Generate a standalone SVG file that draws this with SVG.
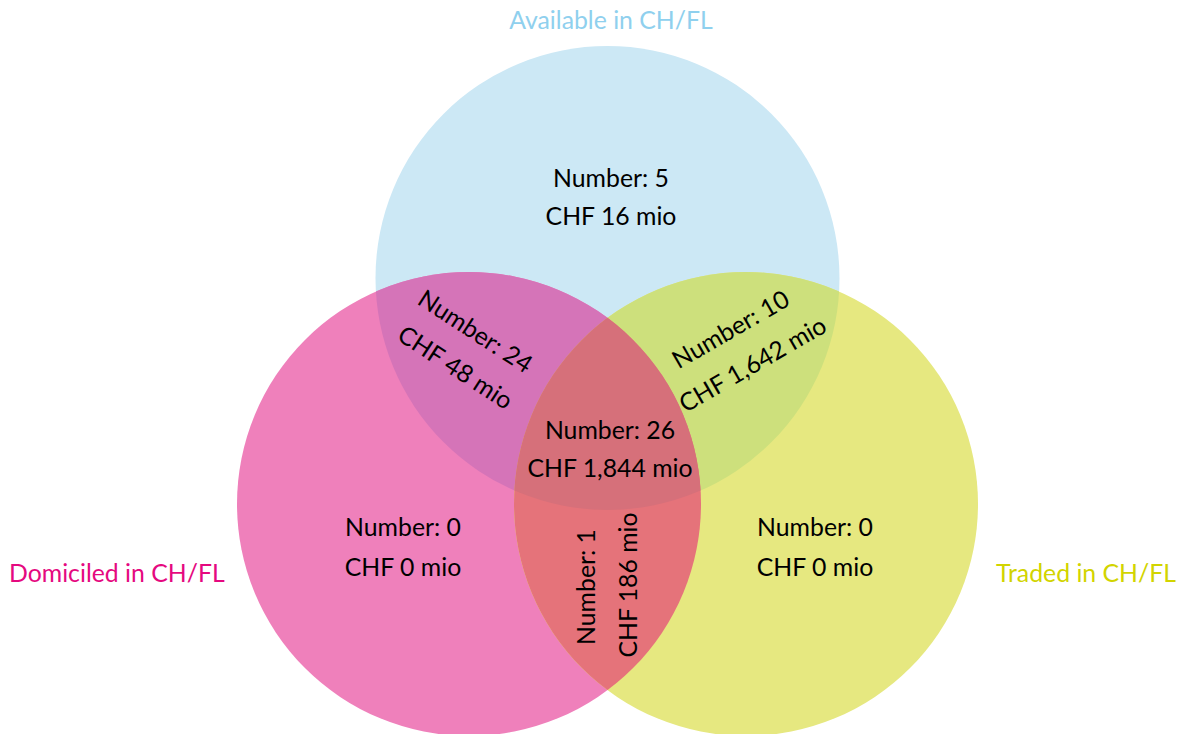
<svg xmlns="http://www.w3.org/2000/svg" width="1180" height="734" viewBox="0 0 1180 734">
  <style>
    .lbl { font-family: Lato, "Open Sans", "Liberation Sans", sans-serif; font-size: 24.8px; fill: #000; text-anchor: middle; }
    .set { font-family: Lato, "Open Sans", "Liberation Sans", sans-serif; font-size: 24.8px; }
  </style>
  <defs>
    <circle id="cAvail" cx="607.5" cy="278" r="232"/>
    <circle id="cDom" cx="469" cy="504" r="232"/>
    <circle id="cTrad" cx="746" cy="504" r="232"/>
    <clipPath id="clipAvail"><use href="#cAvail"/></clipPath>
    <clipPath id="clipDom"><use href="#cDom"/></clipPath>
  </defs>
  <rect width="1180" height="734" fill="#ffffff"/>

  <!-- set circles -->
  <g id="available">
    <use href="#cAvail" fill="#cce8f5"/>
  </g>
  <g id="domiciled">
    <use href="#cDom" fill="#ef80bb"/>
  </g>
  <g id="traded">
    <use href="#cTrad" fill="#e6e880"/>
  </g>

  <!-- pairwise and triple overlaps -->
  <g id="overlaps">
    <g clip-path="url(#clipAvail)"><use href="#cDom" fill="#d574b8"/></g>
    <g clip-path="url(#clipAvail)"><use href="#cTrad" fill="#cde07c"/></g>
    <g clip-path="url(#clipDom)"><use href="#cTrad" fill="#e5737a"/></g>
    <g clip-path="url(#clipAvail)"><g clip-path="url(#clipDom)"><use href="#cTrad" fill="#d6707a"/></g></g>
  </g>

  <!-- set titles -->
  <text class="set" x="611" y="29" text-anchor="middle" fill="#8fd0ee">Available in CH/FL</text>
  <text class="set" x="9" y="582" fill="#e5097f">Domiciled in CH/FL</text>
  <text class="set" x="1176" y="582" text-anchor="end" fill="#d2d400">Traded in CH/FL</text>

  <!-- region values -->
  <g id="only-available">
    <text class="lbl" x="611" y="187">Number: 5</text>
    <text class="lbl" x="611" y="225">CHF 16 mio</text>
  </g>
  <g id="available-domiciled">
    <text class="lbl" transform="translate(475,332) rotate(33)" y="8">Number: 24</text>
    <text class="lbl" transform="translate(455,368) rotate(33)" y="8">CHF 48 mio</text>
  </g>
  <g id="available-traded">
    <text class="lbl" transform="translate(731,330) rotate(-30)" y="8">Number: 10</text>
    <text class="lbl" transform="translate(753,365) rotate(-30)" y="8">CHF 1,642 mio</text>
  </g>
  <g id="all-three">
    <text class="lbl" x="610" y="439">Number: 26</text>
    <text class="lbl" x="610" y="477">CHF 1,844 mio</text>
  </g>
  <g id="only-domiciled">
    <text class="lbl" x="403" y="536">Number: 0</text>
    <text class="lbl" x="403" y="576">CHF 0 mio</text>
  </g>
  <g id="only-traded">
    <text class="lbl" x="815" y="536">Number: 0</text>
    <text class="lbl" x="815" y="576">CHF 0 mio</text>
  </g>
  <g id="domiciled-traded">
    <text class="lbl" transform="translate(587,587) rotate(-90)" y="8">Number: 1</text>
    <text class="lbl" transform="translate(629,585) rotate(-90)" y="8">CHF 186 mio</text>
  </g>
</svg>
